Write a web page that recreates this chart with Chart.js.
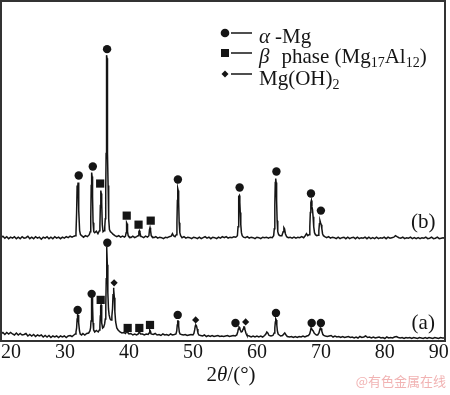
<!DOCTYPE html>
<html><head><meta charset="utf-8">
<script src="https://cdn.jsdelivr.net/npm/chart.js@4"></script>
<style>html,body{margin:0;padding:0;background:#fff;} canvas{display:block}</style>
</head><body>
<canvas id="c" width="450" height="395"></canvas>
<script>
// ---- data (2θ in degrees, intensity in arbitrary units) ----
const xTickValues = [20, 30, 40, 50, 60, 70, 80, 90];
const xTickLabels = ['20', '30', '40', '50', '60', '70', '80', '90'];

// pattern (a)
const patternA = [[20.0,7],[20.3,8.5],[20.6,6.5],[20.9,8.5],[21.2,7],[21.5,8.5],[21.8,7],[22.1,6],[22.4,8],[22.7,6],[23.0,7.5],[23.3,6],[23.6,6.5],[23.9,7.5],[24.2,5],[24.5,6.5],[24.8,5],[25.1,6.5],[25.4,4.5],[25.7,6],[26.0,5],[26.3,6],[26.6,4],[26.9,5.5],[27.2,4],[27.5,5.5],[27.8,3.5],[28.1,5],[28.4,4],[28.7,5],[29.0,3.5],[29.3,5],[29.6,4],[29.9,5],[30.2,3.5],[30.5,5],[30.8,5.5],[31.1,4.5],[31.4,6],[31.6,7],
[31.72,9],[31.82,13],[31.9,22],[31.97,27],[32.04,25],[32.1,26],[32.18,18],[32.27,10],[32.38,7],
[32.6,6],[32.8,7.5],[33.1,6],[33.4,7.5],[33.7,8],[33.9,10],
[34.0,13],[34.07,20],[34.13,40],[34.19,45],[34.25,43],[34.31,35],[34.39,18],[34.48,11],
[34.65,9],[34.9,10.5],[35.2,9],[35.38,11],
[35.46,15],[35.52,25],[35.58,35],[35.64,36],[35.7,30],[35.78,18],[35.88,13],
[36.05,14],[36.2,17],[36.3,22],
[36.38,35],[36.45,62],[36.5,94],[36.56,92],[36.62,76],[36.7,48],[36.8,32],[36.9,26],[37.05,22],[37.2,21],[37.33,25],
[37.43,32],[37.51,46],[37.58,53],[37.65,51],[37.72,43],[37.8,29],[37.92,19],[38.1,13],[38.3,11],[38.6,9],[38.9,8],[39.2,8.5],[39.45,7.5],
[39.6,9],[39.68,12],[39.76,11],[39.85,8],
[40.0,7],[40.3,7.5],[40.6,6],[40.9,7],[41.2,6],[41.45,7],
[41.6,9],[41.7,9],[41.82,7],
[42.1,7],[42.4,6],[42.7,7],[43.0,6.5],[43.15,8],[43.25,11],[43.35,10],[43.47,7],[43.8,6.5],[44.1,7.5],[44.4,6],[44.7,6.5],[45.0,5.5],[45.3,7],[45.6,6],[45.9,6.5],[46.2,5.5],[46.5,7],[46.8,6],[47.1,6.5],[47.35,7],
[47.47,10],[47.55,16],[47.62,20],[47.69,20],[47.77,15],[47.87,9],[47.98,7],
[48.2,6.5],[48.5,6],[48.8,6.5],[49.1,5.5],[49.4,6],[49.7,6.5],[50.0,6],[50.15,7.5],
[50.27,11],[50.37,15],[50.46,16],[50.56,15],[50.66,12],[50.78,8],[50.92,6],
[51.2,5.5],[51.5,5],[51.8,6],[52.1,4.5],[52.4,5.5],[52.7,4.5],[53.0,5.5],[53.3,4.5],[53.6,5],[53.9,5.5],[54.2,4.5],[54.5,5],[54.8,4.5],[55.1,5],[55.4,5.5],[55.7,4.5],[56.0,5],[56.3,5.5],[56.6,5],[56.85,6],
[57.0,9],[57.1,12],[57.2,14],[57.3,13.5],[57.4,11],[57.55,9],[57.7,9.5],
[57.85,12],[57.95,14],[58.05,14],[58.15,11],[58.3,7.5],[58.45,5.5],
[58.8,5],[59.1,4],[59.4,5],[59.7,4],[60.0,5],[60.3,4],[60.6,5],[60.9,4],[61.2,5.5],[61.4,7],[61.55,9],[61.7,8],[61.9,5.5],[62.2,5],[62.5,5.5],[62.7,8],
[62.8,13],[62.88,19],[62.95,22],[63.03,21],[63.11,16],[63.2,10],[63.32,7],[63.5,6],
[63.7,5],[64.0,5.5],[64.2,7],[64.35,8],[64.5,6.5],[64.75,4.5],[65.1,4],[65.4,4.5],[65.7,3.5],[66.0,4.5],[66.3,3.5],[66.6,4.5],[66.9,4],[67.2,5],[67.5,4],[67.8,5],[68.05,5.5],[68.25,7],
[68.37,10],[68.47,13],[68.57,13],[68.67,11],[68.8,10],[68.95,8],[69.1,7],[69.3,6],[69.5,6],
[69.7,8],[69.82,11],[69.92,13],[70.02,12.5],[70.14,10],[70.28,7],[70.45,5.5],
[70.7,5],[71.0,4.5],[71.3,5],[71.6,5.5],[71.9,4],[72.2,5],[72.5,4],[72.8,4.5],[73.1,3.5],[73.4,4.5],[73.7,3.5],[74.0,4],[74.3,4.5],[74.6,3.5],[74.9,4],[75.2,3],[75.5,4],[75.8,3],[76.1,4.5],[76.4,3.5],[76.7,4],[77.0,5],[77.3,3.5],[77.6,4],[77.9,3],[78.2,4],[78.5,3],[78.8,3.5],[79.1,4],[79.4,3],[79.7,3.5],[80.0,2.5],[80.3,4],[80.6,3],[80.9,3.5],[81.2,3],[81.5,4],[81.8,4.5],[82.1,3.5],[82.4,3],[82.7,3.5],[83.0,2.5],[83.3,3.5],[83.6,3],[83.9,3.5],[84.2,2.5],[84.5,3.5],[84.8,3],[85.1,2.5],[85.4,3.5],[85.7,3],[86.0,2.5],[86.3,3.5],[86.6,2.5],[86.9,3.5],[87.2,3],[87.5,2.5],[87.8,3.5],[88.1,3],[88.4,2.5],[88.7,3.5],[89.0,3],[89.4,3]];

// pattern (b), before vertical offset
const patternB = [[20.0,3],[20.3,4.5],[20.6,2.5],[20.9,4],[21.2,2],[21.5,3.5],[21.8,2.5],[22.1,4],[22.4,2],[22.7,3.5],[23.0,2],[23.3,4],[23.6,2.5],[23.9,3],[24.2,4.5],[24.5,2],[24.8,3.5],[25.1,2],[25.4,4],[25.7,2.5],[26.0,3.5],[26.3,1.5],[26.6,3.5],[26.9,2.5],[27.2,4],[27.5,2],[27.8,3.5],[28.1,2],[28.4,4],[28.7,2.5],[29.0,3.5],[29.3,2],[29.6,3.5],[29.9,2.5],[30.2,4],[30.5,3],[30.8,4.5],[31.1,3.5],[31.4,4.5],[31.6,5],
[31.72,8],[31.82,28],[31.9,55],[31.97,50],[32.04,58],[32.11,53],[32.19,30],[32.29,10],[32.42,6],
[32.6,5],[32.9,3.5],[33.2,5],[33.5,4],[33.8,6],[33.95,9],
[34.03,22],[34.1,55],[34.17,68],[34.24,64],[34.31,44],[34.39,18],[34.5,9],
[34.65,8],[34.9,9.5],[35.15,7],[35.38,10],
[35.46,15],[35.53,35],[35.6,50],[35.67,47],[35.74,38],[35.83,16],[35.95,9],
[36.1,10],[36.22,14],[36.3,22],
[36.37,50],[36.43,87],[36.48,150],[36.52,185],[36.57,182],[36.62,120],[36.67,87],[36.74,55],[36.83,22],[36.95,11],[37.1,9],[37.3,8],[37.5,6.5],[37.8,5],[38.1,4],[38.4,5],[38.7,3.5],[39.0,4.5],[39.3,3.5],[39.45,4.5],
[39.56,8],[39.63,18],[39.7,17],[39.78,9],[39.88,5],
[40.0,4],[40.3,3],[40.6,4.5],[40.9,3],[41.2,4],[41.42,5],
[41.55,9],[41.63,10],[41.72,8],[41.84,4.5],
[42.0,4],[42.3,3],[42.6,4.5],[42.9,3.5],[43.12,5],[43.21,11],[43.29,13],[43.38,10],[43.48,5],[43.6,4],[43.9,3],[44.2,4],[44.5,2.5],[44.8,3.5],[45.1,3],[45.4,2],[45.7,3.5],[46.0,3],[46.3,4],[46.6,4.5],[46.8,7],[46.95,5],[47.2,4],[47.4,6],
[47.5,18],[47.57,40],[47.63,52],[47.7,50],[47.77,38],[47.85,18],[47.95,8],[48.08,5],
[48.3,3],[48.6,4],[48.9,2.5],[49.2,3.5],[49.5,3],[49.8,2],[50.1,3.5],[50.4,3],[50.7,2],[51.0,3.5],[51.3,2],[51.6,3],[51.9,4],[52.2,2.5],[52.5,3.5],[52.8,2],[53.1,3.5],[53.4,3],[53.7,2],[54.0,3.5],[54.3,2.5],[54.6,4],[54.9,3],[55.2,4],[55.5,2.5],[55.8,3.5],[56.1,3],[56.4,4],[56.7,3.5],[56.95,5],
[57.05,14],[57.12,32],[57.19,44],[57.26,45],[57.33,38],[57.4,28],[57.48,16],[57.58,8],[57.7,5],
[57.9,3.5],[58.2,3],[58.5,4],[58.8,2.5],[59.1,3.5],[59.4,3],[59.7,2],[60.0,3.5],[60.3,3],[60.6,2],[60.9,3.5],[61.2,3],[61.5,3.5],[61.8,2.5],[62.1,3.5],[62.4,3],[62.62,5],
[62.72,12],[62.8,35],[62.87,58],[62.94,62],[63.01,58],[63.08,40],[63.16,20],[63.26,9],[63.4,6],
[63.6,5],[63.9,5],[64.1,9],[64.22,13],[64.32,12],[64.45,7],[64.65,4],[64.9,3],[65.2,3.5],[65.5,2.5],[65.8,3.5],[66.1,2.5],[66.4,3.5],[66.7,3],[67.0,4],[67.3,3],[67.55,5],[67.75,7],[67.95,5],[68.15,6],
[68.27,14],[68.35,28],[68.43,38],[68.51,40],[68.6,34],[68.69,31],[68.78,24],[68.88,14],[69.0,8],[69.15,6],[69.35,5],[69.55,5.5],
[69.68,10],[69.77,17],[69.86,20],[69.95,18],[70.05,16],[70.15,12],[70.26,7],[70.4,5],
[70.6,4],[70.9,3],[71.2,4],[71.5,2.5],[71.8,3.5],[72.1,3],[72.4,2],[72.7,3.5],[73.0,2],[73.3,3],[73.6,3.5],[73.9,2],[74.2,3.5],[74.5,2],[74.8,3],[75.1,3.5],[75.4,2],[75.7,3.5],[76.0,2],[76.3,3],[76.6,2.5],[76.9,3.5],[77.2,2],[77.5,3.5],[77.8,2],[78.1,3],[78.4,2],[78.7,3.5],[79.0,2],[79.3,3],[79.6,2.5],[79.9,3.5],[80.2,2],[80.5,3.5],[80.8,2.5],[81.1,3],[81.4,3.5],[81.65,5],[81.9,4],[82.2,3],[82.5,2.5],[82.8,3.5],[83.1,2],[83.4,3],[83.7,2.5],[84.0,3.5],[84.3,2],[84.6,3],[84.9,2],[85.2,3],[85.5,2],[85.8,3],[86.1,2.5],[86.4,3.5],[86.7,2],[87.0,2.5],[87.3,3.5],[87.6,2],[87.9,2.5],[88.2,3.5],[88.5,2],[88.8,2.5],[89.1,3],[89.4,2.5]];
const offsetB = 100;

// phase markers (2θ, height above the peak)
const alphaMgA = [[31.98,31],[34.17,47],[36.62,98],[47.62,26],[56.65,18],[62.98,28],[68.56,18],[70.0,18]];
const betaA    = [[35.58,41],[39.8,13],[41.62,13],[43.29,16]];
const hydroxA  = [[37.68,58],[50.43,21],[58.24,19]];
const alphaMgB = [[32.15,65],[34.35,74],[36.58,191],[47.65,61],[57.3,53],[63.05,69],[68.45,47],[70.0,30]];
const betaB    = [[35.5,57],[39.65,25],[41.5,16],[43.4,20]];

const legendLabels = ['α', '-Mg', 'β', 'phase (Mg', '17', 'Al', '12', ')', 'Mg(OH)', '2'];
const curveLabels = ['(a)', '(b)'];

// ---- build ----
const toXY = (arr, off = 0) => arr.map(p => ({ x: p[0], y: p[1] + off }));
const SERIF = '"Liberation Serif", "Times New Roman", serif';
const INK = '#151515';

function lineDs(data) {
  return { type: 'line', data, borderColor: INK, borderWidth: 1.5, pointRadius: 0, tension: 0, fill: false, order: 2 };
}
function markDs(data, style, r) {
  return { type: 'scatter', data, showLine: false, pointStyle: style, pointRadius: r, pointHoverRadius: r,
    backgroundColor: INK, borderColor: INK, borderWidth: 0, order: 1 };
}

const overlay = {
  id: 'overlay',
  afterDraw(chart) {
    const ctx = chart.ctx, a = chart.chartArea, xs = chart.scales.x, ys = chart.scales.y;
    ctx.save();
    // frame
    ctx.strokeStyle = '#333';
    ctx.lineWidth = 2;
    ctx.strokeRect(a.left, a.top, a.right - a.left, a.bottom - a.top);

    // legend
    const lx = a.left + 224, tx = a.left + 258;
    const rows = [a.top + 32, a.top + 52, a.top + 73];
    ctx.fillStyle = INK; ctx.strokeStyle = INK; ctx.lineWidth = 1.5;
    ctx.beginPath(); ctx.arc(lx, rows[0], 4.3, 0, Math.PI * 2); ctx.fill();
    ctx.fillRect(lx - 4, rows[1] - 4, 8, 8);
    ctx.beginPath(); ctx.moveTo(lx, rows[2] - 3.5); ctx.lineTo(lx + 3.5, rows[2]); ctx.lineTo(lx, rows[2] + 3.5); ctx.lineTo(lx - 3.5, rows[2]); ctx.closePath(); ctx.fill();
    rows.forEach(y => { ctx.beginPath(); ctx.moveTo(lx + 6, y); ctx.lineTo(lx + 27, y); ctx.stroke(); });

    ctx.textBaseline = 'alphabetic'; ctx.textAlign = 'left';
    const big = '21px ' + SERIF, ital = 'italic 21px ' + SERIF, sub = '14px ' + SERIF;
    let x;
    const put = (t, font, y) => { ctx.font = font; ctx.fillText(t, x, y); x += ctx.measureText(t).width; };
    x = tx; let b = rows[0] + 10;
    put(legendLabels[0], ital, b); x += 5; put(legendLabels[1], big, b);
    x = tx; b = rows[1] + 10;
    put(legendLabels[2], ital, b); x += 12; put(legendLabels[3], big, b);
    put(legendLabels[4], sub, b + 4); put(legendLabels[5], big, b); put(legendLabels[6], sub, b + 4); put(legendLabels[7], big, b);
    x = tx; b = rows[2] + 11;
    put(legendLabels[8], big, b); put(legendLabels[9], sub, b + 4);

    // curve labels
    ctx.font = '21px ' + SERIF; ctx.textAlign = 'center'; ctx.textBaseline = 'middle';
    ctx.fillText(curveLabels[1], xs.getPixelForValue(86.0), ys.getPixelForValue(offsetB + 18));
    ctx.fillText(curveLabels[0], xs.getPixelForValue(86.0), ys.getPixelForValue(17));

    // axis title 2θ/(°)
    ctx.textAlign = 'left'; ctx.textBaseline = 'alphabetic';
    const parts = [['2', big], ['θ', ital], ['/(°)', big]];
    let w = 0; parts.forEach(p => { ctx.font = p[1]; w += ctx.measureText(p[0]).width; });
    x = (a.left + a.right) / 2 + 8 - w / 2;
    parts.forEach(p => put(p[0], p[1], a.bottom + 40));

    // watermark
    ctx.font = '13px "Noto Sans CJK SC", sans-serif';
    ctx.fillStyle = '#f1b3b3'; ctx.textAlign = 'right'; ctx.textBaseline = 'middle';
    ctx.fillText('@有色金属在线', 446, 381);
    ctx.restore();
  }
};

new Chart(document.getElementById('c'), {
  data: {
    datasets: [
      lineDs(toXY(patternA)),
      lineDs(toXY(patternB, offsetB)),
      markDs(toXY(alphaMgA), 'circle', 4.2),
      markDs(toXY(betaA), 'rect', 5.8),
      markDs(toXY(hydroxA), 'rectRot', 3.6),
      markDs(toXY(alphaMgB, offsetB), 'circle', 4.2),
      markDs(toXY(betaB, offsetB), 'rect', 5.8)
    ]
  },
  options: {
    responsive: false, animation: false, devicePixelRatio: 1,
    layout: { autoPadding: false, padding: { left: 1, right: 5, top: 1, bottom: 30 } },
    plugins: { legend: { display: false }, tooltip: { enabled: false } },
    scales: {
      x: {
        type: 'linear', min: 20, max: 89.4,
        grid: { display: false, drawTicks: false }, border: { display: false },
        afterBuildTicks: s => { s.ticks = xTickValues.map(v => ({ value: v })); },
        ticks: {
          autoSkip: false, align: 'inner', padding: 0, color: INK,
          font: { family: SERIF, size: 20 },
          callback: (v) => xTickLabels[xTickValues.indexOf(v)]
        }
      },
      y: { type: 'linear', min: 0, max: 339, display: false }
    }
  },
  plugins: [overlay]
});
</script>
</body></html>
